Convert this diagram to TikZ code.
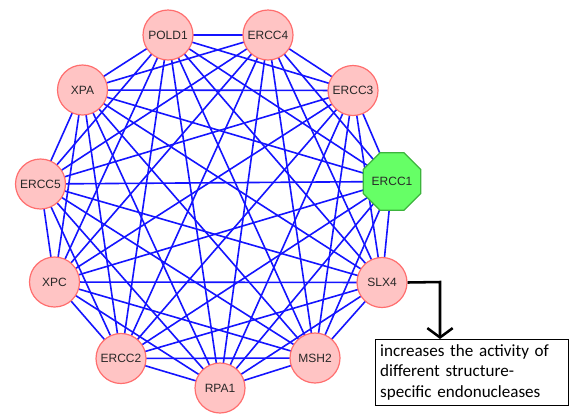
\documentclass[tikz,border=0pt]{standalone}
\usepackage{fontspec}
\setmainfont{Liberation Sans}
\newfontfamily\calib{Carlito}
\usetikzlibrary{backgrounds,arrows.meta,shapes.geometric}
\definecolor{pinkfill}{RGB}{255,196,196}
\definecolor{pinkdraw}{RGB}{255,110,110}
\definecolor{greenfill}{RGB}{102,255,102}
\definecolor{greendraw}{RGB}{60,180,60}
\definecolor{edgeblue}{RGB}{20,20,255}
\definecolor{labelgray}{RGB}{40,40,40}
\begin{document}
\begin{tikzpicture}[x=0.75pt,y=-0.75pt,
  gene/.style={circle,draw=pinkdraw,fill=pinkfill,line width=0.9pt,minimum size=37.5pt,inner sep=0pt,
    text=labelgray,font=\fontsize{9}{10}\selectfont},
  hub/.style={regular polygon,regular polygon sides=8,draw=greendraw,fill=greenfill,line width=0.9pt,
    minimum size=40.6pt,inner sep=0pt,text=labelgray,font=\fontsize{9}{10}\selectfont},
  edge/.style={draw=edgeblue,line width=1.2pt},
  note/.style={draw=black,line width=0.8pt,fill=white,text width=138pt,align=left,inner sep=3.5pt,
    font=\calib\fontsize{12.8}{15.6}\selectfont},
  callout/.style={draw=black,line width=1.9pt,-{Straight Barb[length=7pt,width=19pt,line width=1.9pt]}}
]
\useasboundingbox (0,0) rectangle (570,415);
\node[gene] (POLD1) at (168,35) {POLD1};
\node[gene] (ERCC4) at (268,35) {ERCC4};
\node[gene] (ERCC3) at (353,90.5) {ERCC3};
\node[hub]  (ERCC1) at (392,181.5) {ERCC1};
\node[gene] (SLX4)  at (382,282.5) {SLX4};
\node[gene] (MSH2)  at (315,358) {MSH2};
\node[gene] (RPA1)  at (220,388) {RPA1};
\node[gene] (ERCC2) at (121,358.5) {ERCC2};
\node[gene] (XPC)   at (54.5,282) {XPC};
\node[gene] (ERCC5) at (40.5,184) {ERCC5};
\node[gene] (XPA)   at (82.5,90) {XPA};
\begin{scope}[on background layer]
\foreach \a [count=\i] in {POLD1,ERCC4,ERCC3,ERCC1,SLX4,MSH2,RPA1,ERCC2,XPC,ERCC5,XPA}{
  \foreach \b [count=\j] in {POLD1,ERCC4,ERCC3,ERCC1,SLX4,MSH2,RPA1,ERCC2,XPC,ERCC5,XPA}{
    \ifnum\j>\i \draw[edge] (\a.center) -- (\b.center); \fi
  }
}
\end{scope}
\node[note,anchor=north west] (box) at (375,339) {increases the activity of\\different structure-\\specific endonucleases};
\coordinate (turn) at (440,282);
\draw[callout] (SLX4.east) -- (turn) -- (turn |- box.north);
\end{tikzpicture}
\end{document}
